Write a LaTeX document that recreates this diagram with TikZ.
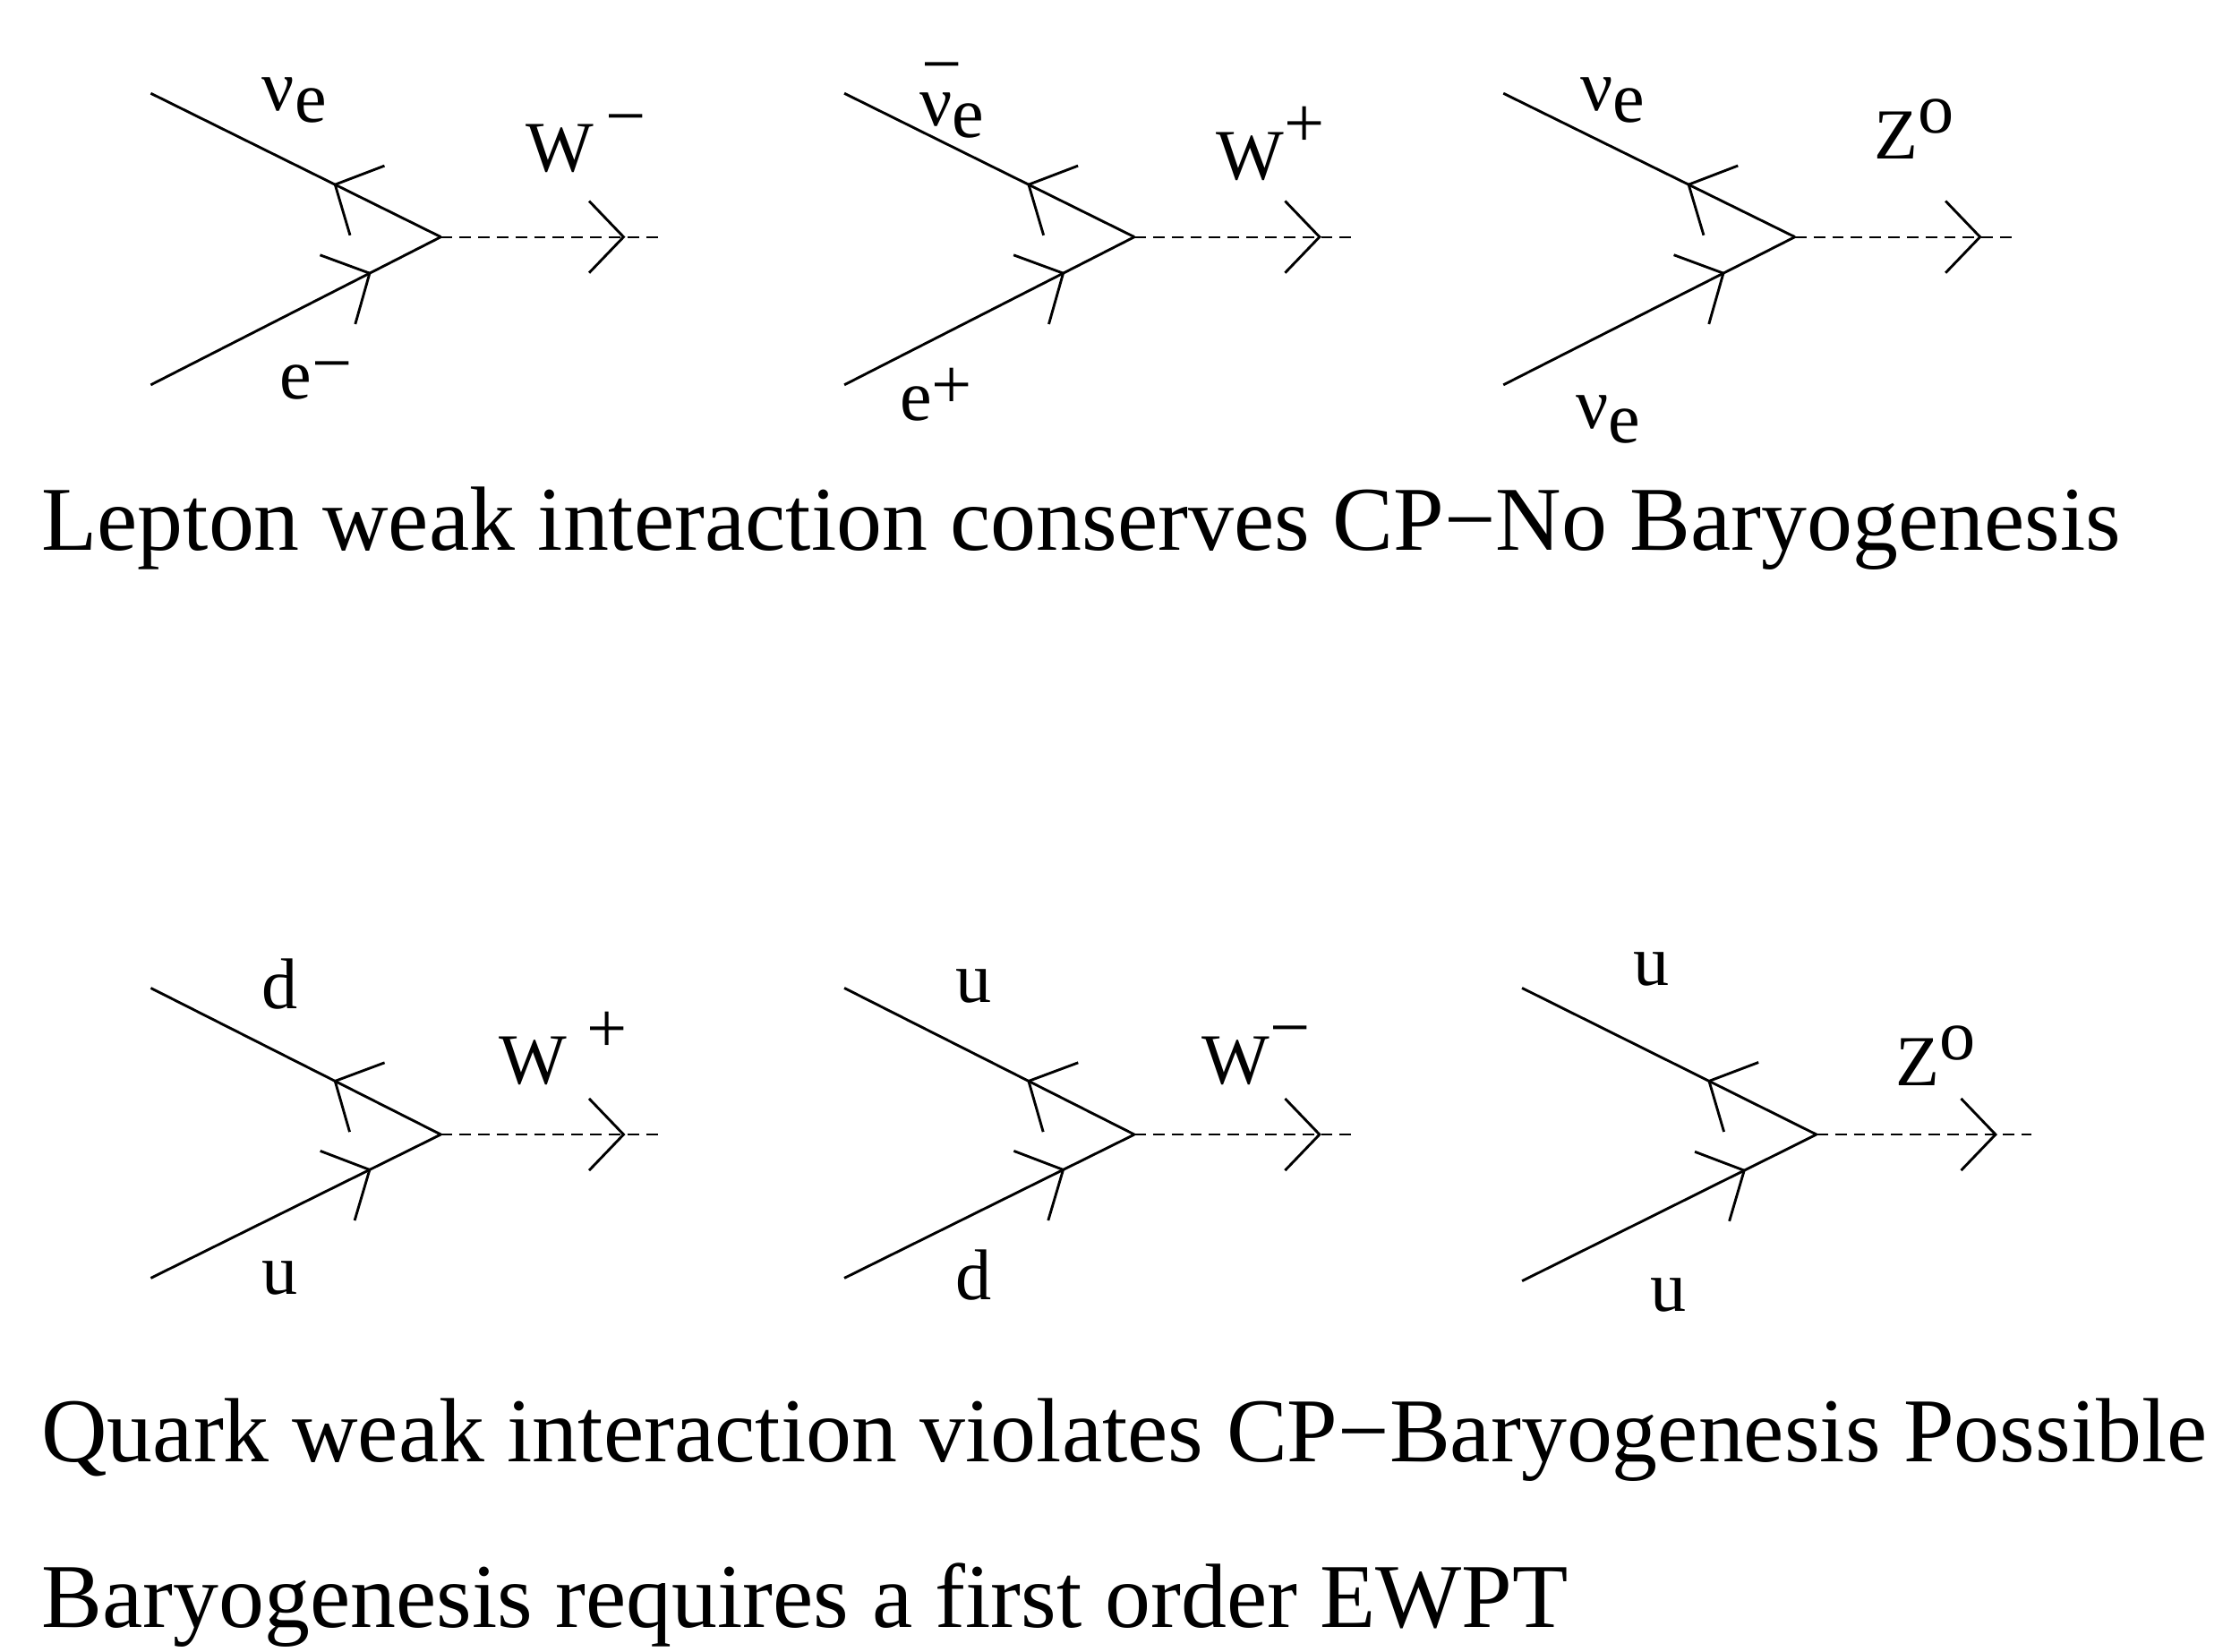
\documentclass[tikz,border=0pt]{standalone}
\usepackage{fontspec}
\setmainfont{Liberation Serif}
\usetikzlibrary{arrows.meta,decorations.markings}
\begin{document}
\begin{tikzpicture}[x=1pt,y=-1pt,line width=1.8pt,
  fer/.style={postaction={decorate},decoration={markings,mark=at position #1 with {\arrow{Straight Barb[length=25pt,width=54pt,line width=1.8pt]}}}},
  bos/.style={dash pattern=on 8pt off 5pt,postaction={decorate},decoration={markings,mark=at position #1 with {\arrow{Straight Barb[length=24pt,width=50pt,line width=1.8pt]}}}},
  lab/.style={font=\fontsize{50}{52}\selectfont,inner sep=0pt},
  big/.style={font=\fontsize{63.5}{66}\selectfont,inner sep=0pt,anchor=base west}]
\useasboundingbox (0,0) rectangle (1560,1150);
\newcommand\vtx[7]{%
  \coordinate (#1v) at (#2,#3);
  \coordinate (#1a) at (#4,#6);
  \coordinate (#1b) at (#4,#7);
  \coordinate (#1e) at (#5,#3);
  \draw[fer=0.37] (#1v) -- (#1a);
  \draw[fer=0.76] (#1b) -- (#1v);
  \draw[line width=1.4pt,bos=0.84] (#1v) -- (#1e);}
\vtx{A}{307}{165}{105}{460}{65}{268}
\vtx{B}{790}{165}{588}{945}{65}{268}
\vtx{C}{1250}{165}{1047}{1405}{65}{268}
\vtx{D}{307}{790}{105}{460}{688}{890}
\vtx{E}{790}{790}{588}{945}{688}{890}
\vtx{F}{1265}{790}{1060}{1415}{688}{892}
% labels row 1
\node[lab] (l1) at (205,70) {ν\raisebox{-8pt}{e}};
\node[lab] (l2) at (408,100) {W\raisebox{22pt}{\,−}};
\node[lab] (l3) at (220,265) {e\raisebox{8pt}{−}};
\node[lab] (l4) at (663,70) {\rlap{\raisebox{26pt}{\kern1pt−}}ν\raisebox{-8pt}{e}};
\node[lab] (l5) at (885,100) {W\raisebox{22pt}{+}};
\node[lab] (l6) at (652,275) {e\raisebox{8pt}{+}};
\node[lab] (l7) at (1123,70) {ν\raisebox{-8pt}{e}};
\node[lab] (l8) at (1333,90) {Z\raisebox{18pt}{o}};
\node[lab] (l9) at (1120,292) {ν\raisebox{-10pt}{e}};
\node[big] (t1) at (28,383) {Lepton weak interaction conserves CP−No Baryogenesis};
% labels row 2
\node[lab] (m1) at (195,685) {d};
\node[lab] (m2) at (392,730) {W\raisebox{22pt}{\;+}};
\node[lab] (m3) at (195,890) {u};
\node[lab] (m4) at (678,687) {u};
\node[lab] (m5) at (875,735) {W\raisebox{22pt}{−}};
\node[lab] (m6) at (678,888) {d};
\node[lab] (m7) at (1150,675) {u};
\node[lab] (m8) at (1348,735) {Z\raisebox{18pt}{o}};
\node[lab] (m9) at (1162,902) {u};
\node[big] (t2) at (28,1018) {Quark weak interaction violates CP−Baryogenesis Possible};
\node[big] (t3) at (28,1133) {Baryogenesis requires a first order EWPT};
\end{tikzpicture}
\end{document}
